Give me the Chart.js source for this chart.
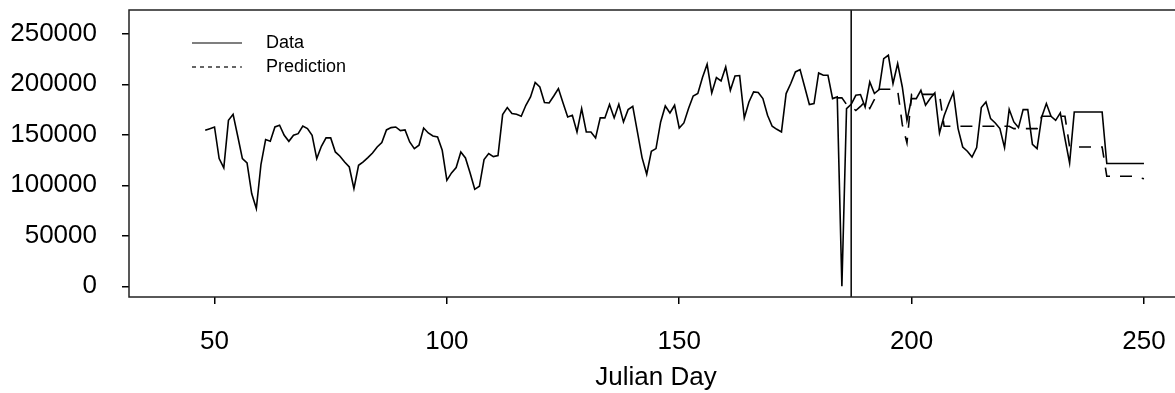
<!DOCTYPE html>
<html>
<head>
<meta charset="utf-8">
<script src="https://cdn.jsdelivr.net/npm/chart.js@4.4.1/dist/chart.umd.min.js"></script>
<style>
  html, body { margin: 0; padding: 0; background: #fff; overflow: hidden; }
  #wrap { width: 1200px; height: 393px; }
</style>
</head>
<body>
<div id="wrap"><canvas id="myChart" width="1200" height="393"></canvas></div>
<script>
// observed series, one value per Julian day
var dataDays = [
  48, 49, 50, 51, 52, 53, 54, 55, 56, 57, 58, 59, 60, 61, 62, 63, 64, 65, 66, 67,
  68, 69, 70, 71, 72, 73, 74, 75, 76, 77, 78, 79, 80, 81, 82, 83, 84, 85, 86, 87,
  88, 89, 90, 91, 92, 93, 94, 95, 96, 97, 98, 99, 100, 101, 102, 103, 104, 105, 106, 107,
  108, 109, 110, 111, 112, 113, 114, 115, 116, 117, 118, 119, 120, 121, 122, 123, 124, 125, 126, 127,
  128, 129, 130, 131, 132, 133, 134, 135, 136, 137, 138, 139, 140, 141, 142, 143, 144, 145, 146, 147,
  148, 149, 150, 151, 152, 153, 154, 155, 156, 157, 158, 159, 160, 161, 162, 163, 164, 165, 166, 167,
  168, 169, 170, 171, 172, 173, 174, 175, 176, 177, 178, 179, 180, 181, 182, 183, 184, 185, 186, 187,
  188, 189, 190, 191, 192, 193, 194, 195, 196, 197, 198, 199, 200, 201, 202, 203, 204, 205, 206, 207,
  208, 209, 210, 211, 212, 213, 214, 215, 216, 217, 218, 219, 220, 221, 222, 223, 224, 225, 226, 227,
  228, 229, 230, 231, 232, 233, 234, 235, 236, 237, 238, 239, 240, 241, 242, 243, 244, 245, 246, 247,
  248, 249, 250
];
var dataValues = [
  154400, 156000, 157700, 126400, 117200, 164300, 170300, 148500, 126400, 122100,
  91800, 76900, 120800, 145200, 143500, 157700, 159400, 149500, 143500, 149500,
  151100, 158700, 156100, 149500, 126400, 138600, 146900, 146900, 133000, 128700,
  123100, 118100, 96700, 119800, 123100, 127400, 132000, 137900, 142300, 154800,
  157100, 157700, 154100, 154800, 142900, 136300, 139600, 156700, 151800, 148800,
  147800, 134600, 104900, 112200, 117500, 133000, 127000, 112200, 96000, 99000,
  125400, 131400, 128400, 129400, 170000, 176900, 171000, 170300, 168300, 179200,
  187400, 201700, 197300, 181900, 181500, 188400, 195700, 181500, 167600, 169300,
  152800, 175900, 152800, 152800, 146900, 166700, 166700, 179900, 166700, 180200,
  162700, 174900, 178200, 152800, 127400, 110900, 133700, 136300, 162700, 178500,
  171600, 179200, 156700, 161700, 175900, 188400, 190800, 206600, 219800, 191400,
  206600, 203300, 217100, 194000, 208200, 208600, 166700, 182500, 192400, 191800,
  185800, 169300, 158400, 155400, 152800, 190800, 200700, 212200, 214500, 197300,
  179900, 180900, 211200, 208900, 208900, 185800, 187400, 0, 175900, 180200,
  189100, 189800, 177500, 202300, 190800, 194700, 225400, 228700, 200700, 220500,
  197300, 164300, 185800, 185800, 194000, 179200, 185800, 191400, 151800, 168800,
  180900, 191800, 156100, 137900, 133700, 128000, 137300, 176900, 182500, 166000,
  161700, 156100, 137300, 175200, 162700, 157100, 174900, 174900, 140600, 136300,
  167600, 180900, 168300, 164300, 171600, 146200, 122100, 172600, 172600, 172600,
  172600, 172600, 172600, 172600, 121500, 121500, 121500, 121500, 121500, 121500,
  121500, 121500, 121500
];

// model prediction
var predDays = [
  184, 185, 186, 187, 188, 189, 190, 191, 192, 193, 194, 195, 196, 197, 198, 199, 200, 201, 202, 203,
  204, 205, 206, 207, 208, 209, 210, 211, 212, 213, 214, 215, 216, 217, 218, 219, 220, 221, 222, 223,
  224, 225, 226, 227, 228, 229, 230, 231, 232, 233, 234, 235, 236, 237, 238, 239, 240, 241, 242, 243,
  244, 245, 246, 247, 248, 249, 250
];
var predValues = [
  186500, 186500, 180000, 178000, 174000, 178000, 183000, 176000, 185000, 195000,
  195000, 195000, 195000, 194000, 160000, 142000, 190000, 190000, 190000, 190000,
  190000, 190000, 190000, 158400, 158400, 158400, 158400, 158400, 158400, 158400,
  158400, 158400, 158400, 158400, 158400, 158400, 158400, 158400, 156100, 156100,
  156100, 156100, 156100, 156100, 168300, 168300, 168300, 168300, 168300, 168300,
  138000, 137900, 137900, 137900, 137900, 137900, 137900, 137900, 108900, 108900,
  108900, 108900, 108900, 108900, 108900, 107500, 106500
];

var xTicks = [50, 100, 150, 200, 250];
var yTicks = [0, 50000, 100000, 150000, 200000, 250000];
var cutDay = 187;
var seriesNames = ["Data", "Prediction"];
var xTitle = "Julian Day";

var FONT = "'Liberation Sans', Arial, Helvetica, sans-serif";

function toPoints(xs, ys) {
  return xs.map(function (x, i) { return { x: x, y: ys[i] }; });
}

// cut line, frame and legend drawn on top, R style
var framePlugin = {
  id: 'framePlugin',
  afterDatasetsDraw: function (chart) {
    var ctx = chart.ctx;
    var a = chart.chartArea;
    var cx = chart.scales.x.getPixelForValue(cutDay);
    ctx.save();
    ctx.strokeStyle = '#000';
    ctx.lineWidth = 1.5;
    ctx.beginPath();
    ctx.moveTo(cx, a.top);
    ctx.lineTo(cx, a.bottom);
    ctx.stroke();

    ctx.strokeStyle = '#222';
    ctx.strokeRect(a.left, a.top, a.right - a.left, a.bottom - a.top);

    // legend
    var lx = a.left + 63, ly = a.top + 33;
    ctx.strokeStyle = '#000';
    ctx.lineWidth = 1.2;
    ctx.beginPath();
    ctx.moveTo(lx, ly);
    ctx.lineTo(lx + 50, ly);
    ctx.stroke();
    ctx.setLineDash([4, 4]);
    ctx.beginPath();
    ctx.moveTo(lx, ly + 24);
    ctx.lineTo(lx + 50, ly + 24);
    ctx.stroke();
    ctx.setLineDash([]);
    ctx.fillStyle = '#000';
    ctx.font = '18px ' + FONT;
    ctx.textBaseline = 'middle';
    ctx.textAlign = 'left';
    ctx.fillText(seriesNames[0], lx + 74, ly);
    ctx.fillText(seriesNames[1], lx + 74, ly + 24);
    ctx.restore();
  }
};

new Chart(document.getElementById('myChart'), {
  type: 'line',
  data: {
    datasets: [{
      label: seriesNames[0],
      data: toPoints(dataDays, dataValues),
      borderColor: '#000',
      borderWidth: 1.6,
      pointRadius: 0,
      tension: 0,
      fill: false
    }, {
      label: seriesNames[1],
      data: toPoints(predDays, predValues),
      borderColor: '#000',
      borderWidth: 1.6,
      borderDash: [12, 10],
      pointRadius: 0,
      tension: 0,
      fill: false
    }]
  },
  options: {
    responsive: false,
    animation: false,
    layout: { padding: { top: 10, right: 17, left: 0, bottom: 0 } },
    plugins: {
      legend: { display: false },
      tooltip: { enabled: false }
    },
    scales: {
      x: {
        type: 'linear',
        min: 31.6,
        max: 258.4,
        afterBuildTicks: function (scale) {
          scale.ticks = xTicks.map(function (v) { return { value: v }; });
        },
        afterFit: function (scale) {
          scale.height = 96;
          scale.paddingLeft = 0;
          scale.paddingRight = 0;
        },
        border: { display: false },
        grid: { drawOnChartArea: false, drawTicks: true, tickLength: 7, color: '#000', lineWidth: 1.5 },
        ticks: {
          color: '#000',
          font: { family: FONT, size: 26 },
          padding: 22,
          maxRotation: 0,
          callback: function (v) { return v; }
        },
        title: {
          display: true,
          text: xTitle,
          color: '#000',
          font: { family: FONT, size: 26 },
          padding: { top: 0, bottom: 0 }
        }
      },
      y: {
        min: -10600,
        max: 273500,
        afterBuildTicks: function (scale) {
          scale.ticks = yTicks.map(function (v) { return { value: v }; });
        },
        afterFit: function (scale) {
          scale.width = 129;
          scale.paddingTop = 0;
          scale.paddingBottom = 0;
        },
        border: { display: false },
        grid: { drawOnChartArea: false, drawTicks: true, tickLength: 7, color: '#000', lineWidth: 1.5 },
        ticks: {
          color: '#000',
          font: { family: FONT, size: 26 },
          padding: 25,
          callback: function (v) { return String(v); }
        }
      }
    }
  },
  plugins: [framePlugin]
});
</script>
</body>
</html>
